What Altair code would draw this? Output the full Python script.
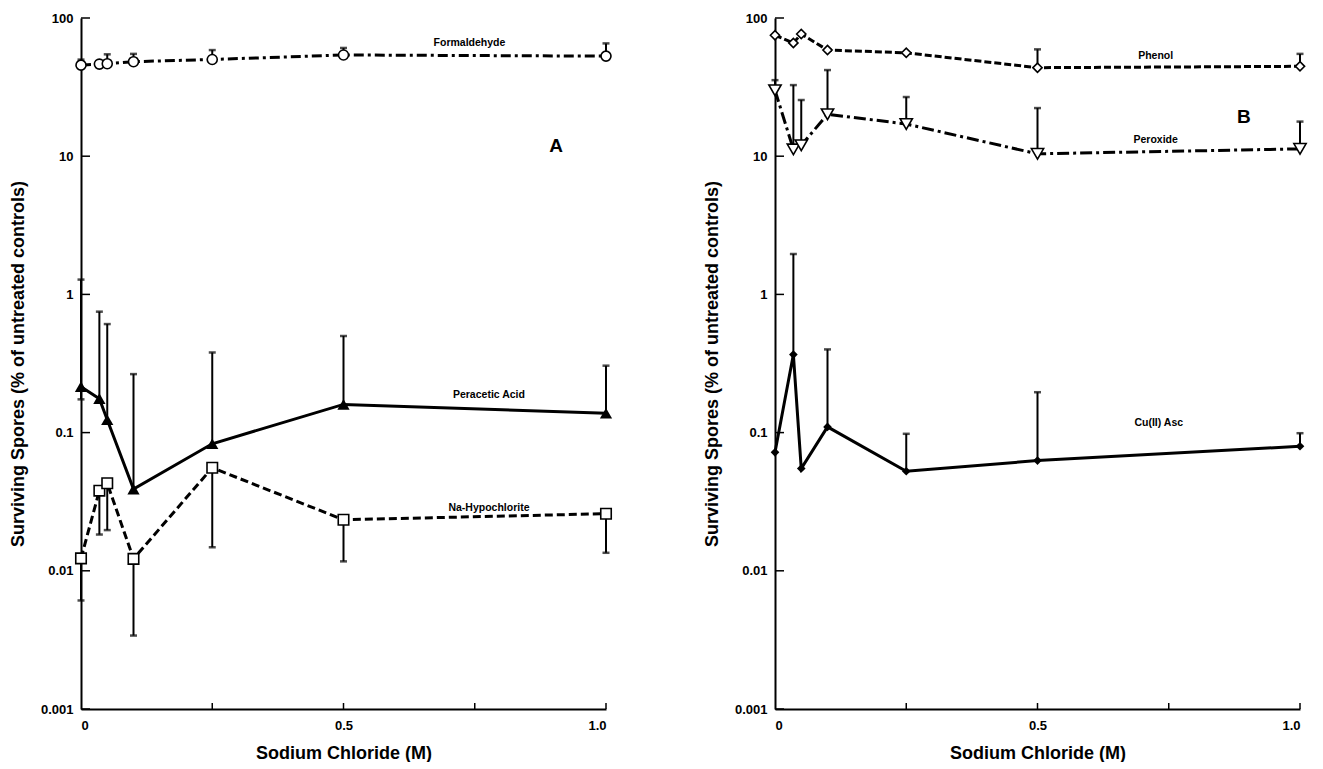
import altair as alt
import pandas as pd

FONT = "Liberation Sans"

# NaCl concentrations (M)
conc = [0, 0.035, 0.05, 0.1, 0.25, 0.5, 1.0]

# Panel A
formaldehyde = [45.6, 46.4, 46.7, 48.3, 50.1, 54.0, 53.0]
formaldehyde_hi = [50.0, None, 54.6, 55.0, 58.6, 60.7, 65.5]
formaldehyde_lo = [None] * 7

peracetic = [0.215, 0.176, 0.124, 0.039, 0.083, 0.160, 0.138]
peracetic_hi = [1.28, 0.75, 0.61, 0.265, 0.38, 0.50, 0.305]
peracetic_lo = [0.174, None, None, None, None, None, None]

hypochlorite = [0.0123, 0.038, 0.043, 0.0122, 0.0557, 0.0234, 0.0259]
hypochlorite_hi = [None] * 7
hypochlorite_lo = [0.0061, 0.0183, 0.0197, 0.0034, 0.0148, 0.0117, 0.0135]

# Panel B
phenol = [75.0, 66.0, 76.6, 58.6, 56.0, 43.7, 44.7]
phenol_hi = [None, None, None, None, None, 59.3, 55.0]
phenol_lo = [None] * 7

peroxide = [30.0, 11.2, 12.0, 20.1, 17.1, 10.4, 11.3]
peroxide_hi = [35.5, 32.7, 25.5, 42.0, 26.8, 22.3, 17.8]
peroxide_lo = [None] * 7

cu_asc = [0.072, 0.367, 0.055, 0.110, 0.0525, 0.0627, 0.0796]
cu_asc_hi = [None, 1.96, None, 0.40, 0.098, 0.196, 0.099]
cu_asc_lo = [None] * 7

y_ticks = [0.001, 0.01, 0.1, 1, 10, 100]
x_ticks = [0, 0.5, 1.0]
x_minor = [0.25, 0.5, 0.75, 1.0]

labels_a = pd.DataFrame({"text": ["Formaldehyde", "Peracetic Acid", "Na-Hypochlorite"],
                         "x": [0.74, 0.777, 0.777], "y": [66.0, 0.187, 0.0284]})
labels_b = pd.DataFrame({"text": ["Phenol", "Peroxide", "Cu(II) Asc"],
                         "x": [0.725, 0.725, 0.731], "y": [53.0, 13.1, 0.1175]})
letter_a = pd.DataFrame({"text": ["A"], "x": [0.905], "y": [11.9]})
letter_b = pd.DataFrame({"text": ["B"], "x": [0.893], "y": [19.2]})

W, H = 525, 691

xscale = alt.Scale(domain=[0, 1], nice=False, zero=False)
yscale = alt.Scale(type="log", domain=[0.001, 100], nice=False)


def make_df(y, hi, lo):
    return pd.DataFrame({"x": conc, "y": y, "hi": hi, "lo": lo})


def series_layers(df, dash, shape, filled, size):
    X = alt.X("x:Q", scale=xscale)
    Y = alt.Y("y:Q", scale=yscale)
    layers = []
    up = df.dropna(subset=["hi"])
    if len(up):
        layers.append(alt.Chart(up).mark_rule(color="black", strokeWidth=2).encode(
            x="x:Q", y="y:Q", y2="hi:Q"))
        layers.append(alt.Chart(up).mark_tick(orient="horizontal", color="black", size=7,
                                              thickness=2.5).encode(x="x:Q", y="hi:Q"))
    dn = df.dropna(subset=["lo"])
    if len(dn):
        layers.append(alt.Chart(dn).mark_rule(color="black", strokeWidth=2).encode(
            x="x:Q", y="lo:Q", y2="y:Q"))
        layers.append(alt.Chart(dn).mark_tick(orient="horizontal", color="black", size=7,
                                              thickness=2.5).encode(x="x:Q", y="lo:Q"))
    line_kw = dict(color="black", strokeWidth=3)
    if dash:
        line_kw["strokeDash"] = dash
    layers.append(alt.Chart(df).mark_line(**line_kw).encode(x=X, y=Y))
    if filled:
        pt = alt.Chart(df).mark_point(shape=shape, filled=True, color="black", size=size, opacity=1)
    else:
        pt = alt.Chart(df).mark_point(shape=shape, filled=True, fill="white", stroke="black",
                                      strokeWidth=1.6, size=size, opacity=1)
    layers.append(pt.encode(x="x:Q", y="y:Q"))
    return layers


def panel(series, labels, letter):
    y_axis = alt.Axis(values=y_ticks, ticks=False, grid=False, domainColor="black", domainWidth=2,
                      labelExpr="datum.value >= 1 ? format(datum.value, 'd') : format(datum.value, '~g')",
                      labelPadding=8, titlePadding=13,
                      title="Surviving Spores (% of untreated controls)")
    x_axis = alt.Axis(values=x_ticks, ticks=False, grid=False, domainColor="black", domainWidth=2,
                      labelExpr="datum.value == 0 ? '0' : format(datum.value, '.1f')",
                      labelPadding=10, titlePadding=12, title="Sodium Chloride (M)")
    base = alt.Chart(pd.DataFrame({"x": [0, 1], "y": [0.001, 100]})).mark_point(opacity=0).encode(
        x=alt.X("x:Q", scale=xscale, axis=x_axis), y=alt.Y("y:Q", scale=yscale, axis=y_axis))
    layers = [base]
    ytk = alt.Chart(pd.DataFrame({"v": y_ticks})).mark_rule(color="black", strokeWidth=1.5).encode(
        y="v:Q", x=alt.value(0), x2=alt.value(9))
    xtk = alt.Chart(pd.DataFrame({"v": x_minor})).mark_rule(color="black", strokeWidth=1.5).encode(
        x="v:Q", y=alt.value(H), y2=alt.value(H - 6))
    layers += [ytk, xtk]
    for s in series:
        layers += series_layers(*s)
    layers.append(alt.Chart(labels).mark_text(font=FONT, fontWeight="bold", fontSize=10.5,
                                              color="black").encode(x="x:Q", y="y:Q", text="text:N"))
    layers.append(alt.Chart(letter).mark_text(font=FONT, fontWeight="bold", fontSize=19,
                                              color="black").encode(x="x:Q", y="y:Q", text="text:N"))
    return alt.layer(*layers).properties(width=W, height=H)


panel_a = panel([
    (make_df(formaldehyde, formaldehyde_hi, formaldehyde_lo), [10, 4, 3, 4], "circle", False, 100),
    (make_df(peracetic, peracetic_hi, peracetic_lo), None, "triangle-up", True, 150),
    (make_df(hypochlorite, hypochlorite_hi, hypochlorite_lo), [8, 4], "square", False, 110),
], labels_a, letter_a)

panel_b = panel([
    (make_df(phenol, phenol_hi, phenol_lo), [7, 3], "diamond", False, 85),
    (make_df(peroxide, peroxide_hi, peroxide_lo), [12, 4, 3, 4], "triangle-down", False, 150),
    (make_df(cu_asc, cu_asc_hi, cu_asc_lo), None, "diamond", True, 75),
], labels_b, letter_b)

chart = alt.hconcat(panel_a, panel_b, spacing=88).properties(
    padding={"left": 1, "top": 4, "right": 0, "bottom": 0}
).configure_view(stroke=None).configure_axis(
    labelFont=FONT, labelFontWeight="bold", labelFontSize=13, labelColor="black",
    titleFont=FONT, titleFontWeight="bold", titleColor="black",
).configure_axisY(titleFontSize=18).configure_axisX(titleFontSize=18)

chart.save("out.html", embed_options={"renderer": "svg", "actions": False})
